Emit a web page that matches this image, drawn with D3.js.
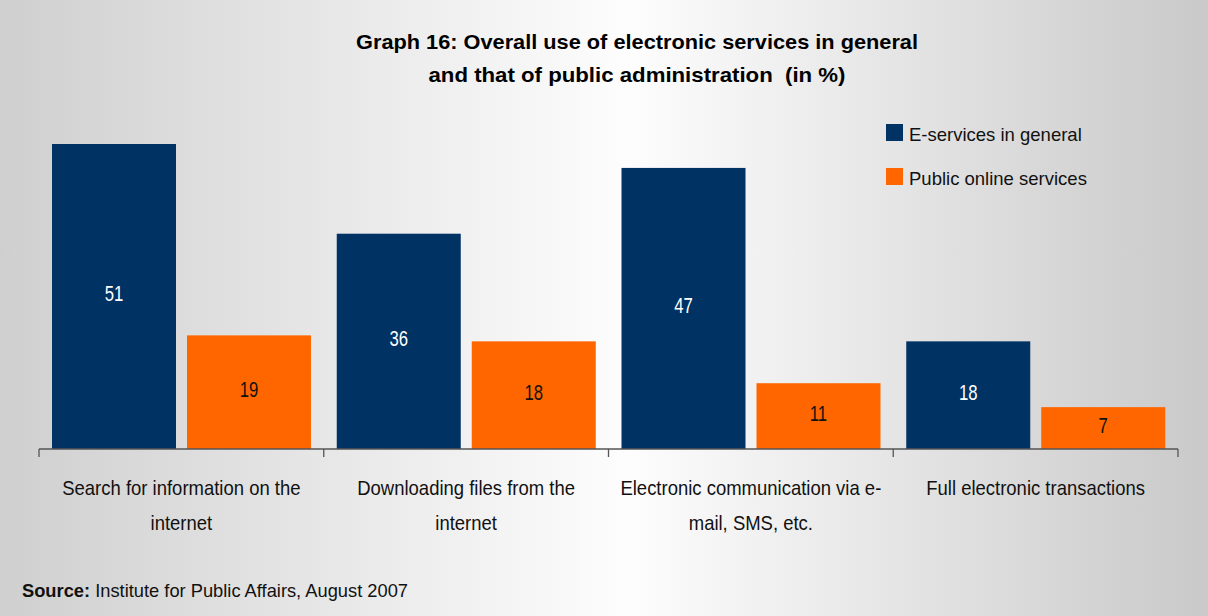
<!DOCTYPE html>
<html>
<head>
<meta charset="utf-8">
<script src="https://cdn.jsdelivr.net/npm/d3@7"></script>
<style>
  html, body { margin: 0; padding: 0; }
  svg { display: block; font-family: "Liberation Sans", Arial, sans-serif; }
  svg text { white-space: pre; }
</style>
</head>
<body>
<svg id="chart" width="1208" height="616"></svg>
<script>
// Survey results (%)
const categories = [
  ["Search for information on the", "internet"],
  ["Downloading files from the", "internet"],
  ["Electronic communication via e-", "mail, SMS, etc."],
  ["Full electronic transactions"]
];
const seriesNames = ["E-services in general", "Public online services"];
const generalValues = [51, 36, 47, 18];
const publicValues = [19, 18, 11, 7];
const titleLines = [
  "Graph 16: Overall use of electronic services in general",
  "and that of public administration  (in %)"
];
const sourceLabel = "Source:";
const sourceText = " Institute for Public Affairs, August 2007";

const colors = ["#003263", "#ff6600"];
const labelColors = ["#ffffff", "#111111"];

const svg = d3.select("#chart");
const W = 1208, H = 616;

// background: grey edges fading to white near the middle
const defs = svg.append("defs");
const grad = defs.append("linearGradient").attr("id", "bg").attr("x1", "0").attr("x2", "1").attr("y1", "0").attr("y2", "0");
grad.append("stop").attr("offset", "0").attr("stop-color", "#cfcfcf");
grad.append("stop").attr("offset", "0.52").attr("stop-color", "#fdfdfd");
grad.append("stop").attr("offset", "1").attr("stop-color", "#c9c9c9");
svg.append("rect").attr("width", W).attr("height", H).attr("fill", "url(#bg)");

// narrow-face look: compress glyphs horizontally by factor k
function squeeze(sel, k) {
  sel.each(function () {
    const len = this.getComputedTextLength();
    d3.select(this).attr("textLength", len * k).attr("lengthAdjust", "spacingAndGlyphs");
  });
}

// title
const titleWidths = [562, 417];
svg.append("g").selectAll("text").data(titleLines).join("text")
  .attr("x", 637).attr("y", (d, i) => 49 + i * 33)
  .attr("text-anchor", "middle")
  .attr("font-size", 21).attr("font-weight", "bold").attr("fill", "#000")
  .attr("textLength", (d, i) => titleWidths[i]).attr("lengthAdjust", "spacingAndGlyphs")
  .text(d => d);

// scales
const idx = d3.range(categories.length);
const x0 = d3.scaleBand().domain(idx).range([39, 1178]).padding(0);
const x1 = d3.scaleBand().domain([0, 1]).range([13, 272]).paddingInner(0.0815).paddingOuter(0);
const y = d3.scaleLinear().domain([0, 51]).range([449, 144]);

const rows = idx.map(i => [generalValues[i], publicValues[i]]);

const groups = svg.append("g").selectAll("g").data(rows).join("g")
  .attr("transform", (d, i) => `translate(${x0(i)},0)`);

groups.selectAll("rect").data(d => d).join("rect")
  .attr("x", (d, j) => x1(j))
  .attr("y", d => y(d))
  .attr("width", x1.bandwidth())
  .attr("height", d => y(0) - y(d))
  .attr("fill", (d, j) => colors[j]);

groups.selectAll("text").data(d => d).join("text")
  .attr("x", (d, j) => x1(j) + x1.bandwidth() / 2)
  .attr("y", d => (y(d) + y(0)) / 2 + 4.5)
  .attr("text-anchor", "middle")
  .attr("font-size", 22)
  .attr("fill", (d, j) => labelColors[j])
  .text(d => d)
  .call(squeeze, 0.76);

// category axis with ticks at band boundaries
const axis = svg.append("g").attr("stroke", "#555").attr("stroke-width", 1.3);
axis.append("line").attr("x1", 39).attr("x2", 1178).attr("y1", y(0)).attr("y2", y(0));
const bounds = idx.map(i => x0(i)).concat([x0(idx.length - 1) + x0.bandwidth()]);
axis.selectAll("line.tick").data(bounds).join("line").attr("class", "tick")
  .attr("x1", d => d).attr("x2", d => d)
  .attr("y1", y(0)).attr("y2", y(0) + 8);

// category labels
const catG = svg.append("g").selectAll("g").data(categories).join("g");
catG.selectAll("text").data((d, i) => d.map(t => ({ t, i }))).join("text")
  .attr("x", d => x0(d.i) + x0.bandwidth() / 2)
  .attr("y", (d, k) => 495 + k * 35)
  .attr("text-anchor", "middle")
  .attr("font-size", 21).attr("fill", "#111")
  .text(d => d.t)
  .call(squeeze, 0.88);

// legend
const leg = svg.append("g").selectAll("g").data(seriesNames).join("g")
  .attr("transform", (d, i) => `translate(886,${124 + i * 44})`);
leg.append("rect").attr("width", 17).attr("height", 17).attr("fill", (d, i) => colors[i]);
leg.append("text").attr("x", 23).attr("y", 16.5)
  .attr("font-size", 18.5).attr("fill", "#111")
  .text(d => d);

// source note
const src = svg.append("text").attr("x", 22).attr("y", 597).attr("font-size", 19).attr("fill", "#111");
src.append("tspan").attr("font-weight", "bold").text(sourceLabel);
src.append("tspan").text(sourceText);
src.attr("textLength", 386).attr("lengthAdjust", "spacingAndGlyphs");
</script>
</body>
</html>
